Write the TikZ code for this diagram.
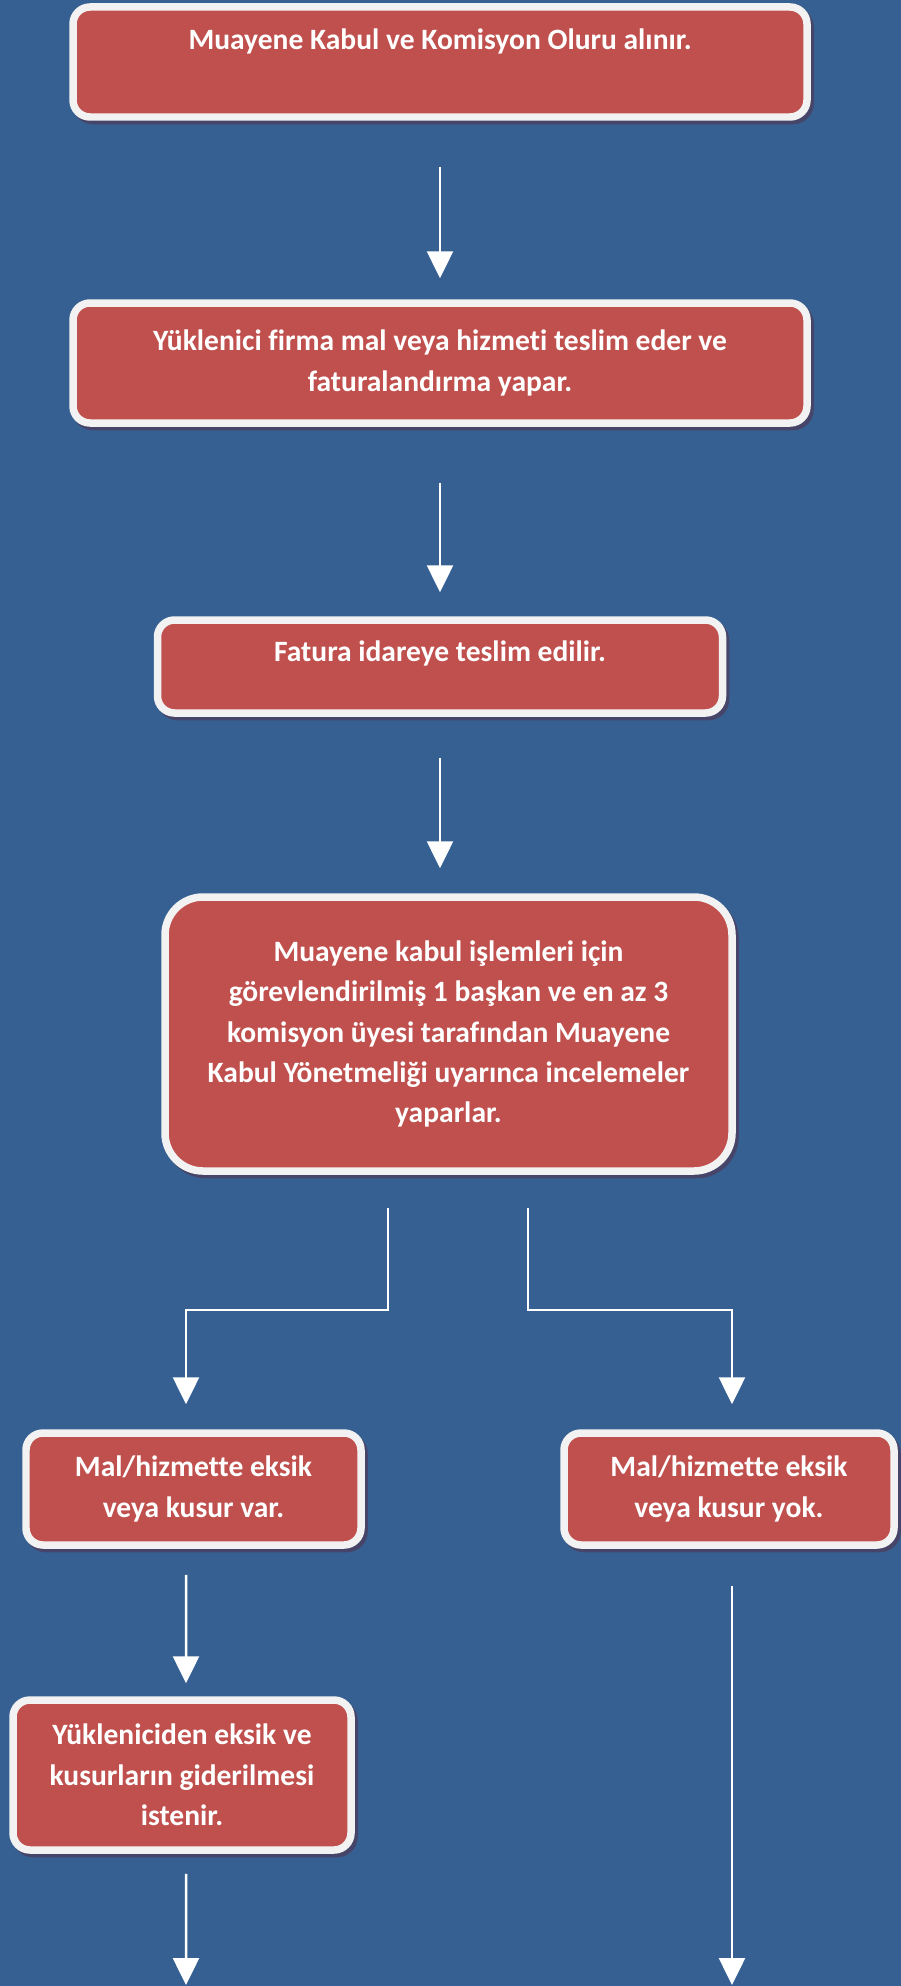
\documentclass[tikz,border=0pt]{standalone}
\definecolor{bgblue}{RGB}{54, 96, 146}
\definecolor{boxred}{RGB}{192, 80, 77}
\definecolor{rimwhite}{RGB}{242, 242, 242}
\definecolor{shadowc}{RGB}{70, 68, 104}
\usepackage{fontspec}
\setmainfont[Ligatures={NoCommon}]{Carlito}
\usepackage{tikz}
\usetikzlibrary{arrows.meta, positioning, shadows}

\begin{document}
\begin{tikzpicture}[
  stepbox/.style={draw=rimwhite, line width=0.15cm, fill=boxred, rounded corners=0.34cm,
    text=white, font=\fontsize{16.8pt}{23pt}\selectfont\bfseries, align=center, inner sep=0pt,
    drop shadow={shadow xshift=0.06cm, shadow yshift=-0.07cm, fill=shadowc, draw=shadowc, line width=0.15cm, opacity=1}},
  flow/.style={draw=white, line width=0.05cm, -{Triangle[length=0.54cm, width=0.52cm]}}
]
  % Page
  \useasboundingbox (0,0) rectangle (18.02,-39.72);
  \fill[bgblue] (0,0) rectangle (18.02,-39.72);

  % Main steps
  \node[stepbox, minimum width=14.68cm, minimum height=2.20cm, text height=0.41cm, text depth=0.91cm] (b1) at (8.80,-1.24) {Muayene Kabul ve Komisyon Oluru alınır.};
  \node[stepbox, minimum width=14.68cm, minimum height=2.40cm] (b2) at (8.80,-7.26) {Yüklenici firma mal veya hizmeti teslim eder ve\\faturalandırma yapar.};
  \node[stepbox, minimum width=11.30cm, minimum height=1.86cm, text height=0.41cm, text depth=0.63cm] (b3) at (8.80,-13.33) {Fatura idareye teslim edilir.};
  \node[stepbox, rounded corners=0.76cm, minimum width=11.34cm, minimum height=5.48cm] (b4) at (8.97,-20.68) {Muayene kabul işlemleri için\\görevlendirilmiş 1 başkan ve en az 3\\komisyon üyesi tarafından Muayene\\Kabul Yönetmeliği uyarınca incelemeler\\yaparlar.};

  % Outcomes
  \node[stepbox, minimum width=6.70cm, minimum height=2.24cm] (b5) at (3.87,-29.78) {Mal/hizmette eksik\\veya kusur var.};
  \node[stepbox, minimum width=6.60cm, minimum height=2.24cm] (b6) at (14.58,-29.78) {Mal/hizmette eksik\\veya kusur yok.};
  \node[stepbox, minimum width=6.76cm, minimum height=3.00cm] (b7) at (3.64,-35.50) {Yükleniciden eksik ve\\kusurların giderilmesi\\istenir.};

  % Open ends at the bottom
  \coordinate (endL) at (3.72,-39.70);
  \coordinate (endR) at (14.64,-39.70);

  % Arrows
  \draw[flow, shorten <=0.92cm, shorten >=0.42cm] (b1.south) -- (b2.north);
  \draw[flow, shorten <=1.12cm, shorten >=0.48cm] (b2.south) -- (b3.north);
  \draw[flow, shorten <=0.82cm, shorten >=0.50cm] (b3.south) -- (b3.south |- b4.north);
  \draw[flow] ([xshift=-1.21cm, yshift=-0.66cm]b4.south) -- ++(0,-2.04) -| ([xshift=-0.15cm, yshift=0.50cm]b5.north);
  \draw[flow] ([xshift=1.59cm, yshift=-0.66cm]b4.south) -- ++(0,-2.04) -| ([xshift=0.06cm, yshift=0.50cm]b6.north);
  \draw[flow] ([xshift=-0.15cm, yshift=-0.52cm]b5.south) -- ([xshift=0.08cm, yshift=0.26cm]b7.north);
  \draw[flow] ([xshift=0.08cm, yshift=-0.40cm]b7.south) -- (endL);
  \draw[flow] ([xshift=0.06cm, yshift=-0.74cm]b6.south) -- (endR);
\end{tikzpicture}
\end{document}
